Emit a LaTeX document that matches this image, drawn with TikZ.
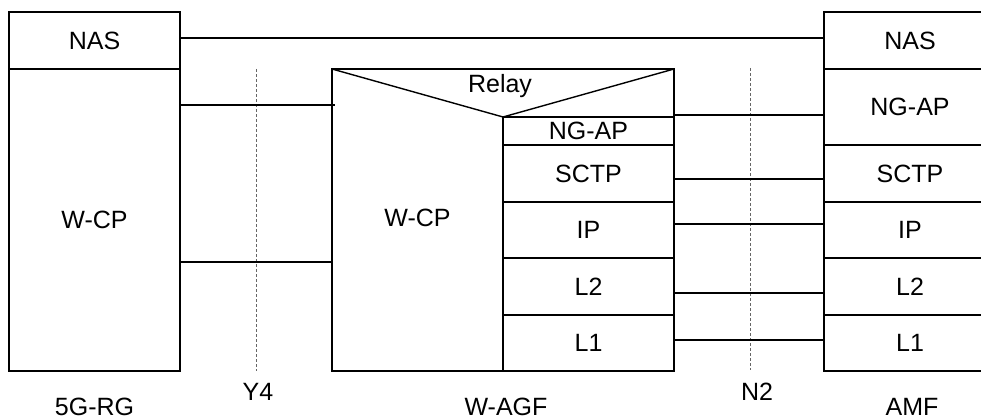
\documentclass[tikz,border=0pt]{standalone}
\usepackage{fontspec}
\setmainfont{Liberation Sans}
\usetikzlibrary{positioning}

\begin{document}
\begin{tikzpicture}[x=1pt,y=-1pt,
 layer/.style={draw,line width=1.4pt,inner sep=0pt,outer sep=0pt,minimum width=171pt,font=\fontsize{25}{29}\selectfont},
 lbl/.style={inner sep=0pt,font=\fontsize{25}{29}\selectfont},
 link/.style={line width=1.2pt},
 refline/.style={gray!80!black,line width=0.9pt,dash pattern=on 3pt off 2pt}]
\useasboundingbox (0,0) rectangle (981,419);
% 5G-RG
\node[layer,minimum height=57pt] (rgnas) at (94.5,40.5) {NAS};
\node[layer,minimum height=302pt,below=0pt of rgnas] (rgwcp) {W-CP};
% W-AGF
\node[layer,minimum width=342pt,minimum height=302pt] (agf) at (503,220) {};
\node[lbl] (agfwcp) at (417.5,218) {W-CP};
\node[layer,minimum height=28pt] (agfngap) at (588.5,131) {NG-AP};
\node[layer,minimum height=57pt,below=0pt of agfngap] (agfsctp) {SCTP};
\node[layer,minimum height=56pt,below=0pt of agfsctp] (agfip) {IP};
\node[layer,minimum height=57pt,below=0pt of agfip] (agfltwo) {L2};
\node[layer,minimum height=56pt,below=0pt of agfltwo] (agflone) {L1};
\draw[line width=1.4pt] (agf.north west) -- (agfngap.north west) -- (agf.north east);
\node[lbl] (relay) at (500,86) {Relay};
% AMF
\node[layer,minimum width=172pt,minimum height=57pt] (amfnas) at (910,40.5) {NAS};
\node[layer,minimum width=172pt,minimum height=76pt,below=0pt of amfnas] (amfngap) {NG-AP};
\node[layer,minimum width=172pt,minimum height=57pt,below=0pt of amfngap] (amfsctp) {SCTP};
\node[layer,minimum width=172pt,minimum height=56pt,below=0pt of amfsctp] (amfip) {IP};
\node[layer,minimum width=172pt,minimum height=57pt,below=0pt of amfip] (amfltwo) {L2};
\node[layer,minimum width=172pt,minimum height=56pt,below=0pt of amfltwo] (amflone) {L1};
% reference points
\coordinate (ytop) at (256,69);
\coordinate (ybot) at (256,371);
\coordinate (ntop) at (750,68);
\coordinate (nbot) at (750,370);
\draw[refline] (ytop) -- (ybot);
\draw[refline] (ntop) -- (nbot);
% peer links
\draw[link] (rgnas.east |- 0,38) -- (amfnas.west |- 0,38);
\draw[link] (rgwcp.east |- 0,105) -- ([xshift=3pt]agf.west |- 0,105);
\draw[link] (rgwcp.east |- 0,262) -- (agf.west |- 0,262);
\draw[link] (agf.east |- 0,115) -- (amfngap.west |- 0,115);
\draw[link] (agfsctp.east |- 0,179) -- (amfsctp.west |- 0,179);
\draw[link] (agfip.east |- 0,224) -- (amfip.west |- 0,224);
\draw[link] (agfltwo.east |- 0,293) -- (amfltwo.west |- 0,293);
\draw[link] (agflone.east |- 0,340) -- (amflone.west |- 0,340);
% names
\node[lbl] (rgname) at (94.5,407) {5G-RG};
\node[lbl] (yname) at (258,392) {Y4};
\node[lbl] (agfname) at (506,407) {W-AGF};
\node[lbl] (nname) at (757,392) {N2};
\node[lbl] (amfname) at (912,407) {AMF};
\end{tikzpicture}
\end{document}
